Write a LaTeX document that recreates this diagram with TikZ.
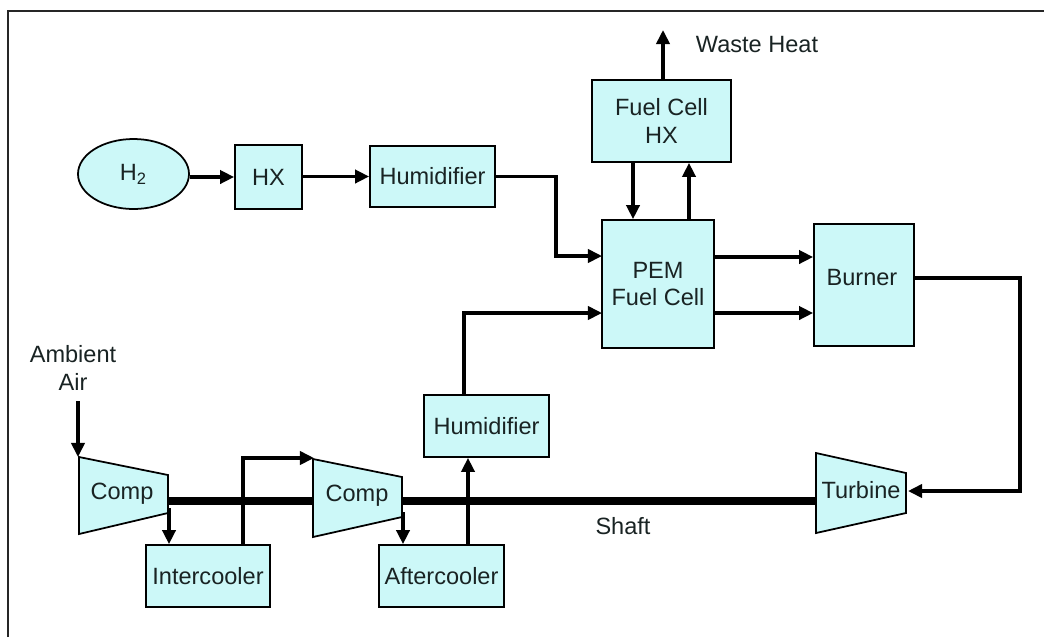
\documentclass[tikz,border=0pt]{standalone}
\usepackage{fontspec}
\setmainfont{Liberation Sans}
\usetikzlibrary{arrows.meta,shapes.geometric}
\newdimen\px \px=0.02cm
\definecolor{boxfill}{RGB}{204,248,248}
\definecolor{txt}{RGB}{25,35,35}
\tikzset{
  box/.style={draw=black, line width=1pt, fill=boxfill, inner sep=0pt, text=txt, align=center,
    font=\fontsize{13.4}{15.8}\selectfont},
  lbl/.style={text=txt, align=center, inner sep=0pt, font=\fontsize{13.4}{15.8}\selectfont},
  arr/.style={line width=1.9pt, -{Triangle[length=8pt,width=7.5pt]}},
  shaft/.style={line width=5pt},
  trap/.style={draw=black, line width=1pt, fill=boxfill, line join=miter},
  frame/.style={line width=1.1pt, draw=black!85}
}
\begin{document}
\begin{tikzpicture}[x=0.02cm,y=-0.02cm]
\useasboundingbox (0,0) rectangle (1044,637);
% frame
\draw[frame] (8,637) -- (8,11) -- (1044,11);

% boxes
\node[box, ellipse, minimum width=111\px, minimum height=70\px] (H2) at (133.5,174) {H\textsubscript{2}};
\node[box, minimum width=67\px, minimum height=64\px] (HX) at (268.5,177) {HX};
\node[box, minimum width=125\px, minimum height=61\px] (Hum1) at (432.5,176.5) {Humidifier};
\node[box, minimum width=139\px, minimum height=82\px] (FCHX) at (661.5,121) {Fuel Cell\\HX};
\node[box, minimum width=112\px, minimum height=128\px] (PEM) at (658,284) {PEM\\Fuel Cell};
\node[box, minimum width=100\px, minimum height=122\px] (Burner) at (864,285) {};
\node[lbl] (BurnerT) at (862,278) {Burner};
\node[box, minimum width=125\px, minimum height=62\px] (Hum2) at (486.5,426) {Humidifier};
\node[box, minimum width=124\px, minimum height=62\px] (Inter) at (208,576) {Intercooler};
\node[box, minimum width=125\px, minimum height=62\px] (After) at (441.5,576) {Aftercooler};

% shaft (behind trapezoids)
\coordinate (s0) at (168,501);
\coordinate (s1) at (313,501);
\coordinate (s2) at (402,501);
\coordinate (s3) at (816,501);
\draw[shaft] (s0) -- (s1);
\draw[shaft] (s2) -- (s3);

% trapezoids
\draw[trap] (79,457) -- (168,475) -- (168,513) -- (79,534) -- cycle;
\node[lbl] (Comp1) at (122,494) {Comp};
\draw[trap] (313,459) -- (402,477) -- (402,517) -- (313,537) -- cycle;
\node[lbl] (Comp2) at (357,496) {Comp};
\draw[trap] (816,453) -- (906,473) -- (906,513) -- (816,533) -- cycle;
\node[lbl] (Turb) at (861,490) {Turbine};

% labels
\node[lbl] (WH) at (757,45) {Waste Heat};
\node[lbl] (Amb) at (73,368) {Ambient\\Air};
\node[lbl] (ShaftL) at (623,526) {Shaft};

% coordinates
\coordinate (j1) at (556,200);
\coordinate (pin1) at (602,256);
\coordinate (pin2) at (602,313);
\coordinate (h2o) at (464,0);
\coordinate (f1) at (633,0);
\coordinate (f2) at (689,0);
\coordinate (wh) at (663,30);
\coordinate (b1) at (0,257);
\coordinate (b2) at (0,313);
\coordinate (bo) at (914,278);
\coordinate (rc) at (1020,0);
\coordinate (tin) at (908,491);
\coordinate (ai) at (78,401);
\coordinate (c1in) at (78,457);
\coordinate (c1o) at (169,508);
\coordinate (ico) at (243,0);
\coordinate (c2in) at (314,458);
\coordinate (c2o) at (403,512);
\coordinate (aco) at (468,0);

% connectors
\draw[arr] (H2.east |- HX.west) -- (HX.west);
\draw[arr] (HX.east |- Hum1.east) -- (Hum1.west);
\draw[arr] (Hum1.east) -| (j1) |- (pin1);
\draw[arr] (h2o |- Hum2.north) |- (pin2);
\draw[arr] (f1 |- FCHX.south) -- (f1 |- PEM.north);
\draw[arr] (f2 |- PEM.north) -- (f2 |- FCHX.south);
\draw[arr] (wh |- FCHX.north) -- (wh);
\draw[arr] (PEM.east |- b1) -- (Burner.west |- b1);
\draw[arr] (PEM.east |- b2) -- (Burner.west |- b2);
\draw[arr] (bo) -| (rc |- tin) -- (tin);
\draw[arr] (ai) -- (c1in);
\draw[arr] (c1o) -- (c1o |- Inter.north);
\draw[arr] (ico |- Inter.north) |- (c2in);
\draw[arr] (c2o) -- (c2o |- After.north);
\draw[arr] (aco |- After.north) -- (aco |- Hum2.south);
\end{tikzpicture}
\end{document}
